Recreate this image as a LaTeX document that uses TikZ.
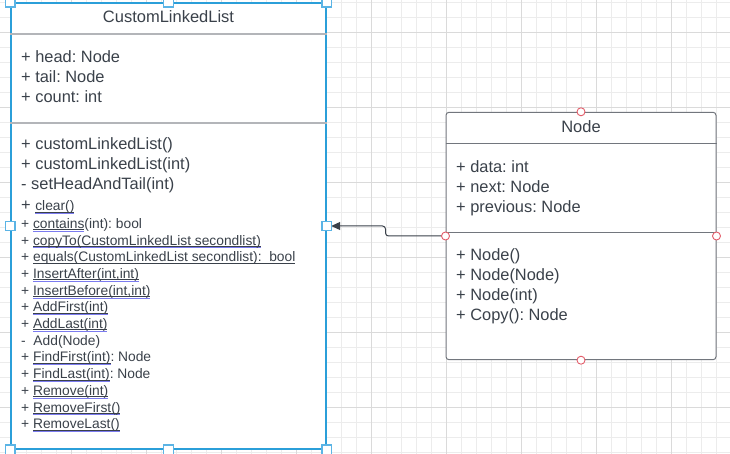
\documentclass[tikz,border=0pt]{standalone}
\usepackage{fontspec}
\setmainfont{Liberation Sans}
\usetikzlibrary{arrows.meta}
\frenchspacing

\definecolor{inkc}{HTML}{3A414A}
\definecolor{gridminor}{HTML}{ECECEC}
\definecolor{gridmajor}{HTML}{DADADA}
\definecolor{selblue}{HTML}{2B9FD9}
\definecolor{handleblue}{HTML}{5BB4E5}
\definecolor{sepgrey}{HTML}{B3B5B9}
\definecolor{boxgrey}{HTML}{72767D}
\definecolor{portred}{HTML}{E35D6A}
\definecolor{spellc}{HTML}{7B7BEF}

% font sizes (1pt = 1px)
\newcommand\sizeTitle{\fontsize{16.5}{20}\selectfont}
\newcommand\sizeRow{\fontsize{16.4}{20}\selectfont}
\newcommand\sizeSmall{\fontsize{13.8}{16}\selectfont}

% underlined method names, with and without the spell-check mark
\newcommand\ulspell[1]{\setbox0\hbox{#1}%
  \rlap{\color{inkc}\rule[-1.6pt]{\wd0}{0.7pt}}%
  \rlap{\color{spellc}\rule[-3.1pt]{\wd0}{0.7pt}}\box0}
\newcommand\ulplain[1]{\setbox0\hbox{#1}%
  \rlap{\color{inkc}\rule[-1.6pt]{\wd0}{0.7pt}}\box0}

\begin{document}
\begin{tikzpicture}[x=1pt,y=-1pt,
  classbox/.style={draw, fill=white, inner sep=0pt},
  title/.style={anchor=base, inner sep=0pt, text=inkc, font=\sizeTitle},
  row/.style={anchor=base west, inner sep=0pt, text=inkc, font=\sizeRow},
  srow/.style={anchor=base west, inner sep=0pt, text=inkc, font=\sizeSmall},
  sepline/.style={draw=sepgrey, line width=1.3pt},
  nsep/.style={draw=boxgrey, line width=1pt},
  handle/.style={draw=handleblue, fill=white, line width=1.3pt,
    minimum size=9.5pt, inner sep=0pt},
  port/.style={circle, draw=portred, fill=white, line width=0.9pt,
    minimum size=8pt, inner sep=0pt},
  conn/.style={draw=inkc, line width=1pt, rounded corners=3pt,
    -{Triangle[length=9pt,width=8pt]}, shorten >=4.5pt}
]
\useasboundingbox (0,0) rectangle (730,454);
\fill[white] (0,0) rectangle (730,454);

% background grid
\foreach \gx in {11.7,26.7,...,730}
  \draw[gridminor, line width=1pt] (\gx,0) -- (\gx,454);
\foreach \gy in {2.3,17.3,...,454}
  \draw[gridminor, line width=1pt] (0,\gy) -- (730,\gy);
\foreach \gx in {71.7,146.7,...,730}
  \draw[gridmajor, line width=1pt] (\gx,0) -- (\gx,454);
\foreach \gy in {32.3,107.3,...,454}
  \draw[gridmajor, line width=1pt] (0,\gy) -- (730,\gy);

% class CustomLinkedList
\node[classbox, draw=selblue, line width=1.4pt,
  minimum width=315pt, minimum height=446pt] (cll) at (168.5,226) {};
\draw[sepline] (cll.west |- 0,34) -- (cll.east |- 0,34);
\draw[sepline] (cll.west |- 0,123) -- (cll.east |- 0,123);
\node[title] (cllname) at (168.5,23) {CustomLinkedList};

\node[row] (a1) at (21,62.3) {+ head: Node};
\node[row] (a2) at (21,82.3) {+ tail: Node};
\node[row] (a3) at (21,102.3) {+ count: int};

\node[row] (m1) at (21,150) {+ customLinkedList()};
\node[row] (m2) at (21,170) {+ customLinkedList(int)};
\node[row] (m3) at (21,190) {- setHeadAndTail(int)};
\node[row] (m4) at (21,210.7) {+ {\sizeSmall\ulspell{clear()}}};
\node[srow] (m5) at (21,228.3) {+ \ulspell{contains}(int): bool};
\node[srow] (m6) at (21,245) {+ \ulspell{copyTo(CustomLinkedList secondlist)}};
\node[srow] (m7) at (21,261.7) {+ \ulplain{equals(CustomLinkedList secondlist):\ \ bool}};
\node[srow] (m8) at (21,278.4) {+ \ulspell{InsertAfter(int,int)}};
\node[srow] (m9) at (21,295.1) {+ \ulspell{InsertBefore(int,int)}};
\node[srow] (m10) at (21,311.8) {+ \ulspell{AddFirst(int)}};
\node[srow] (m11) at (21,328.5) {+ \ulspell{AddLast(int)}};
\node[srow] (m12) at (21,345.2) {-\ \ Add(Node)};
\node[srow] (m13) at (21,361.9) {+ \ulspell{FindFirst(int)}: Node};
\node[srow] (m14) at (21,378.6) {+ \ulspell{FindLast(int)}: Node};
\node[srow] (m15) at (21,395.3) {+ \ulspell{Remove(int)}};
\node[srow] (m16) at (21,412) {+ \ulspell{RemoveFirst()}};
\node[srow] (m17) at (21,428.7) {+ \ulspell{RemoveLast()}};

% class Node
\node[classbox, draw=boxgrey, line width=1pt, rounded corners=3pt,
  minimum width=270pt, minimum height=247.4pt] (classnode) at (581,236) {};
\draw[nsep] (classnode.west |- 0,144) -- (classnode.east |- 0,144);
\draw[nsep] (classnode.west |- 0,232.3) -- (classnode.east |- 0,232.3);
\node[title] (nodename) at (581,132.3) {Node};

\node[row] (na1) at (456,172.3) {+ data: int};
\node[row] (na2) at (456,192.3) {+ next: Node};
\node[row] (na3) at (456,212.3) {+ previous: Node};

\node[row] (nm1) at (456,260) {+ Node()};
\node[row] (nm2) at (456,280.3) {+ Node(Node)};
\node[row] (nm3) at (456,300.3) {+ Node(int)};
\node[row] (nm4) at (456,320) {+ Copy(): Node};

% association Node -> CustomLinkedList
\draw[conn] (classnode.west) -- ++(-60,0) |- (cll.east);

% connection points of Node
\foreach \p in {north,south,west,east}
  \node[port] (port-\p) at (classnode.\p) {};

% selection handles of CustomLinkedList
\foreach \p in {north west,north,north east,west,east,south west,south,south east}
  \node[handle] (grip-\p) at (cll.\p) {};
\end{tikzpicture}
\end{document}
